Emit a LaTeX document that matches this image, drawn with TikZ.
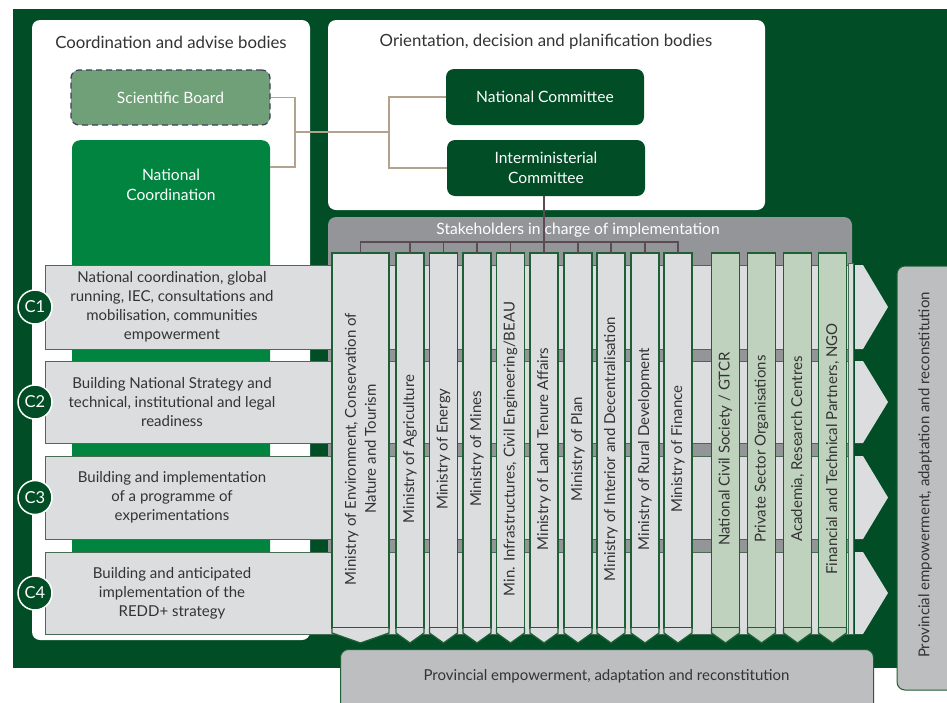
\documentclass[tikz,border=0pt]{standalone}
\usepackage{fontspec}
\setmainfont{Lato}
\usetikzlibrary{positioning}

\definecolor{bggreen}{HTML}{004D26}
\definecolor{coordgreen}{HTML}{00843F}
\definecolor{scigreen}{HTML}{6FA077}
\definecolor{linktan}{HTML}{B3A38E}
\definecolor{stakegray}{HTML}{939598}
\definecolor{bandgray}{HTML}{DCDDDF}
\definecolor{partgreen}{HTML}{BFD2BD}
\definecolor{provgray}{HTML}{BCBEC0}
\definecolor{txtgray}{HTML}{333333}
\definecolor{brackgray}{HTML}{5B4B52}
\definecolor{dashblue}{HTML}{3F3D5C}
\definecolor{edgegreen}{HTML}{1F5F35}

\begin{document}
\begin{tikzpicture}[x=1pt, y=-1pt,
		bodytitle/.style={text=txtgray, font=\fontsize{16.8}{18}\selectfont},
		whitetitle/.style={text=white, font=\fontsize{15.6}{18}\selectfont},
		darkbox/.style={rounded corners=8pt, fill=bggreen, text=white, align=center, minimum width=198, minimum height=56, font=\fontsize{15.6}{20}\selectfont},
		link/.style={linktan, line width=1.5pt},
		brack/.style={brackgray, line width=1.2pt},
		band/.style={fill=bandgray, draw=edgegreen!60!gray, line width=0.8pt},
		bandtext/.style={text=txtgray, align=center, font=\fontsize{15}{19}\selectfont},
		cnum/.style={circle, fill=bggreen, draw=white, line width=1.5pt, text=white, minimum size=34, inner sep=0pt, font=\fontsize{16.5}{16.5}\selectfont},
		colbody/.style={fill=bandgray, draw=edgegreen, line width=1.3pt, minimum width=28, minimum height=375, outer sep=0pt},
		partbody/.style={colbody, fill=partgreen},
		coltip/.style={fill=bandgray, draw=edgegreen, line width=1.3pt},
		parttip/.style={coltip, fill=partgreen},
		coltext/.style={rotate=90, text=txtgray, align=center, font=\fontsize{15}{20}\selectfont},
		provbox/.style={rounded corners=8pt, fill=provgray, draw=edgegreen, line width=1pt}]
	
	\clip (0,0) rectangle (947,702);
	\fill[white] (0,0) rectangle (947,702);
	\fill[bggreen] (13,9) rectangle (947,668);
	
	\filldraw[fill=white, draw=none, rounded corners=8pt] (32,20) rectangle (310,640);
	\filldraw[fill=white, draw=none, rounded corners=8pt] (328,20) rectangle (765,210);
	\node[bodytitle] (advise) at (171,42) {Coordination and advise bodies};
	\node[bodytitle] (orient) at (546,42) {Orientation, decision and planification bodies};
	
	\node[darkbox, fill=scigreen, draw=dashblue, line width=1.2pt, dash pattern=on 6pt off 4pt, minimum width=199, minimum height=55] (sci) at (170.5,97.5) {Scientific Board};
	\node[darkbox, fill=coordgreen, minimum width=198, minimum height=460, anchor=north] (natco) at (171,140) {};
	\node[whitetitle, align=center, font=\fontsize{15.6}{20}\selectfont] (natcotext) at (171,185) {National\\Coordination};
	\node[darkbox] (natcom) at (545,97) {National Committee};
	\node[darkbox] (inter) at (546,168) {Interministerial\\Committee};
	
	\coordinate (j1) at (295,132);
	\coordinate (j2) at (389,132);
	\draw[link] (sci.east) -| (j1) |- ([yshift=-27pt]natco.north east);
	\draw[link] (j1) -- (j2);
	\draw[link] (natcom.west) -| (j2) |- (inter.west);
	
	\filldraw[fill=stakegray, draw=none, rounded corners=8pt] (328,217) rectangle (852,634);
	\node[whitetitle] (stake) at (578,230) {Stakeholders in charge of implementation};
	
	\filldraw[band] (45,265) rectangle (848,349);
	\filldraw[band] (45,361) rectangle (848,443);
	\filldraw[band] (45,456) rectangle (848,539);
	\filldraw[band] (45,552) rectangle (848,634);
	\filldraw[band] (848,263) rectangle (853,634);
	\fill[bandgray] (855,265) -- (863,265) -- (888,307) -- (863,349) -- (855,349) -- cycle;
	\fill[bandgray] (855,361) -- (863,361) -- (888,402) -- (863,443) -- (855,443) -- cycle;
	\fill[bandgray] (855,456) -- (863,456) -- (888,497.5) -- (863,539) -- (855,539) -- cycle;
	\fill[bandgray] (855,552) -- (863,552) -- (888,593) -- (863,634) -- (855,634) -- cycle;
	
	\node[bandtext] (b1) at (172,307) {National coordination, global\\running, IEC, consultations and\\mobilisation, communities\\empowerment};
	\node[bandtext] (b2) at (172,402) {Building National Strategy and\\technical, institutional and legal\\readiness};
	\node[bandtext] (b3) at (172,497.5) {Building and implementation\\of a programme of\\experimentations};
	\node[bandtext] (b4) at (172,593) {Building and anticipated\\implementation of the\\REDD+ strategy};
	\node[cnum] (c1) at (35,307) {C1};
	\node[cnum] (c2) at (35,402) {C2};
	\node[cnum] (c3) at (35,497.5) {C3};
	\node[cnum] (c4) at (35,593) {C4};
	
	\node[colbody, minimum width=57] (m1) at (360.5,440.5) {};
	\node[colbody] (m2) at (410,440.5) {};
	\node[colbody] (m3) at (443.5,440.5) {};
	\node[colbody] (m4) at (477,440.5) {};
	\node[colbody] (m5) at (510.5,440.5) {};
	\node[colbody] (m6) at (544,440.5) {};
	\node[colbody] (m7) at (578,440.5) {};
	\node[colbody] (m8) at (611,440.5) {};
	\node[colbody] (m9) at (645,440.5) {};
	\node[colbody] (m10) at (678,440.5) {};
	\node[partbody] (p1) at (725.5,440.5) {};
	\node[partbody] (p2) at (761.5,440.5) {};
	\node[partbody] (p3) at (797.5,440.5) {};
	\node[partbody] (p4) at (832.5,440.5) {};
	
	\filldraw[coltip] (m1.south west) -- ++(0,5) -- ([yshift=-15pt]m1.south) -- ([yshift=-5pt]m1.south east) -- (m1.south east);
	\filldraw[coltip] (m2.south west) -- ++(0,5) -- ([yshift=-15pt]m2.south) -- ([yshift=-5pt]m2.south east) -- (m2.south east);
	\filldraw[coltip] (m3.south west) -- ++(0,5) -- ([yshift=-15pt]m3.south) -- ([yshift=-5pt]m3.south east) -- (m3.south east);
	\filldraw[coltip] (m4.south west) -- ++(0,5) -- ([yshift=-15pt]m4.south) -- ([yshift=-5pt]m4.south east) -- (m4.south east);
	\filldraw[coltip] (m5.south west) -- ++(0,5) -- ([yshift=-15pt]m5.south) -- ([yshift=-5pt]m5.south east) -- (m5.south east);
	\filldraw[coltip] (m6.south west) -- ++(0,5) -- ([yshift=-15pt]m6.south) -- ([yshift=-5pt]m6.south east) -- (m6.south east);
	\filldraw[coltip] (m7.south west) -- ++(0,5) -- ([yshift=-15pt]m7.south) -- ([yshift=-5pt]m7.south east) -- (m7.south east);
	\filldraw[coltip] (m8.south west) -- ++(0,5) -- ([yshift=-15pt]m8.south) -- ([yshift=-5pt]m8.south east) -- (m8.south east);
	\filldraw[coltip] (m9.south west) -- ++(0,5) -- ([yshift=-15pt]m9.south) -- ([yshift=-5pt]m9.south east) -- (m9.south east);
	\filldraw[coltip] (m10.south west) -- ++(0,5) -- ([yshift=-15pt]m10.south) -- ([yshift=-5pt]m10.south east) -- (m10.south east);
	\filldraw[parttip] (p1.south west) -- ++(0,5) -- ([yshift=-15pt]p1.south) -- ([yshift=-5pt]p1.south east) -- (p1.south east);
	\filldraw[parttip] (p2.south west) -- ++(0,5) -- ([yshift=-15pt]p2.south) -- ([yshift=-5pt]p2.south east) -- (p2.south east);
	\filldraw[parttip] (p3.south west) -- ++(0,5) -- ([yshift=-15pt]p3.south) -- ([yshift=-5pt]p3.south east) -- (p3.south east);
	\filldraw[parttip] (p4.south west) -- ++(0,5) -- ([yshift=-15pt]p4.south) -- ([yshift=-5pt]p4.south east) -- (p4.south east);
	
	\node[coltext] (t1) at (360.5,449) {Ministry of Environment, Conservation of\\Nature and Tourism};
	\node[coltext] (t2) at (410,449) {Ministry of Agriculture};
	\node[coltext] (t3) at (443.5,449) {Ministry of Energy};
	\node[coltext] (t4) at (477,449) {Ministry of Mines};
	\node[coltext] (t5) at (510.5,449) {Min. Infrastructures, Civil Engineering/BEAU};
	\node[coltext] (t6) at (544,449) {Ministry of Land Tenure Affairs};
	\node[coltext] (t7) at (578,449) {Ministry of Plan};
	\node[coltext] (t8) at (611,449) {Ministry of Interior and Decentralisation};
	\node[coltext] (t9) at (645,449) {Ministry of Rural Development};
	\node[coltext] (t10) at (678,449) {Ministry of Finance};
	\node[coltext] (t11) at (725.5,449) {National Civil Society / GTCR};
	\node[coltext] (t12) at (761.5,449) {Private Sector Organisations};
	\node[coltext] (t13) at (797.5,449) {Academia, Research Centres};
	\node[coltext] (t14) at (832.5,449) {Financial and Technical Partners, NGO};
	
	\coordinate (brk) at (0,242);
	\draw[brack] (m1.north) -- (m1.north |- brk) -- (m10.north |- brk) -- (m10.north);
	\draw[brack] (m2.north) -- (m2.north |- brk);
	\draw[brack] (m3.north) -- (m3.north |- brk);
	\draw[brack] (m4.north) -- (m4.north |- brk);
	\draw[brack] (m5.north) -- (m5.north |- brk);
	\draw[brack] (m7.north) -- (m7.north |- brk);
	\draw[brack] (m8.north) -- (m8.north |- brk);
	\draw[brack] (m9.north) -- (m9.north |- brk);
	\draw[brack] (inter.south -| m6.north) -- (m6.north);
	
	\node[provbox, minimum width=533, minimum height=80, anchor=north west] (provb) at (340,649) {};
	\node[bandtext] (provbtext) at (606.5,676) {Provincial empowerment, adaptation and reconstitution};
	\node[provbox, minimum width=58, minimum height=424] (provr) at (926,478) {};
	\node[coltext] (provrtext) at (925,475) {Provincial empowerment, adaptation and reconstitution};
	
\end{tikzpicture}
\end{document}
